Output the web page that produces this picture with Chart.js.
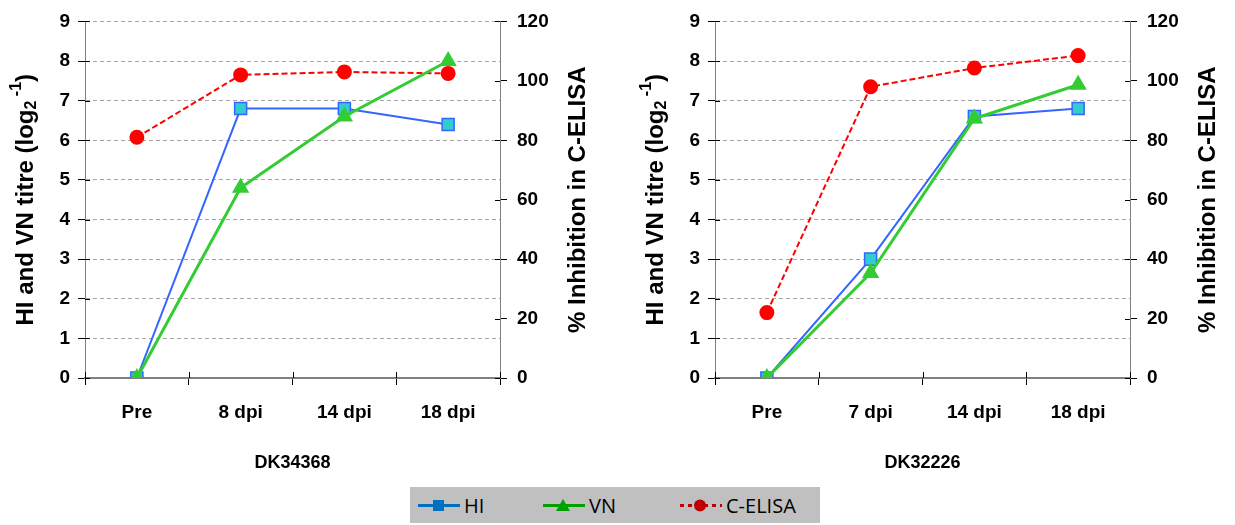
<!DOCTYPE html>
<html>
<head>
<meta charset="utf-8">
<script src="https://cdn.jsdelivr.net/npm/chart.js@4/dist/chart.umd.min.js"></script>
<style>
  body { margin: 0; background: #fff; }
  #wrap { position: relative; width: 1235px; height: 525px; }
  .panel { position: absolute; top: 0; }
  #legend {
    position: absolute; left: 410px; top: 487px; width: 410px; height: 36px;
    background: #c0c0c0; font-family: "Open Sans", sans-serif; font-size: 20px; color: #000;
  }
  #legend .item { position: absolute; top: 0; height: 36px; display: flex; align-items: center; }
  #legend svg { margin-right: 4px; }
</style>
</head>
<body>
<div id="wrap">
  <div class="panel" style="left:0px;width:620px;height:480px"><canvas id="chartA"></canvas></div>
  <div class="panel" style="left:630px;width:605px;height:480px"><canvas id="chartB"></canvas></div>
  <div id="legend"></div>
</div>
<script>
const seriesNames = ['HI', 'VN', 'C-ELISA'];

const titleA = 'DK34368';
const catsA = ['Pre', '8 dpi', '14 dpi', '18 dpi'];
const hiA = [0, 6.8, 6.8, 6.4];
const vnA = [0, 4.8, 6.6, 8.0];
const elisaA = [81, 102, 103, 102.5];

const titleB = 'DK32226';
const catsB = ['Pre', '7 dpi', '14 dpi', '18 dpi'];
const hiB = [0, 3.0, 6.6, 6.8];
const vnB = [0, 2.65, 6.55, 7.4];
const elisaB = [22, 98, 104.3, 108.5];

const leftTicks = {min: 0, max: 9, step: 1};
const rightTicks = {min: 0, max: 120, step: 20};

const boldFont = '"Liberation Sans", Arial, sans-serif';

// axis titles (with sub/superscript) and the inner half of the tick marks
const axisExtras = {
    id: 'axisExtras',
    afterDraw(chart) {
        const ctx = chart.ctx;
        const a = chart.chartArea;
        const mid = (a.top + a.bottom) / 2;

        ctx.save();
        ctx.strokeStyle = '#000';
        ctx.lineWidth = 1;
        ctx.beginPath();
        chart.scales.y.ticks.forEach(t => {
            const py = Math.round(chart.scales.y.getPixelForValue(t.value)) + 0.5;
            ctx.moveTo(a.left, py); ctx.lineTo(a.left + 5, py);
        });
        chart.scales.y1.ticks.forEach(t => {
            const py = Math.round(chart.scales.y1.getPixelForValue(t.value)) + 0.5;
            ctx.moveTo(a.right - 5, py); ctx.lineTo(a.right, py);
        });
        const x = chart.scales.x;
        for (let i = 0; i <= x.ticks.length; i++) {
            const px = Math.round(i === 0 ? a.left : i === x.ticks.length ? a.right
                : (x.getPixelForValue(i - 1) + x.getPixelForValue(i)) / 2) + 0.5;
            ctx.moveTo(px, a.bottom - 6); ctx.lineTo(px, a.bottom);
        }
        ctx.stroke();
        ctx.restore();

        const drawParts = (cx0, parts) => {
            ctx.save();
            ctx.translate(cx0, mid);
            ctx.rotate(-Math.PI / 2);
            ctx.fillStyle = '#000';
            ctx.textBaseline = 'middle';
            let total = 0;
            parts.forEach(p => {
                ctx.font = 'bold ' + p[1] + 'px ' + boldFont;
                total += ctx.measureText(p[0]).width;
            });
            let cx = -total / 2;
            parts.forEach(p => {
                ctx.font = 'bold ' + p[1] + 'px ' + boldFont;
                ctx.fillText(p[0], cx, p[2]);
                cx += ctx.measureText(p[0]).width;
            });
            ctx.restore();
        };
        drawParts(26, [['HI and VN titre (log', 24, 0], ['2', 16, 6], [' -1', 16, -9], [')', 24, 0]]);
        drawParts(a.right + 78, [['% Inhibition in C-ELISA', 24, 0]]);
    }
};

const chartConfig = (cats, hi, vn, elisa, title) => ({
    type: 'line',
    data: {
        labels: cats,
        datasets: [{
            label: seriesNames[0],
            data: hi,
            borderColor: '#3366ff',
            borderWidth: 2,
            pointStyle: 'rect',
            pointRadius: 8.5,
            pointBackgroundColor: '#33cccc',
            pointBorderColor: '#3366ff',
            pointBorderWidth: 1.5,
            yAxisID: 'y',
            order: 1
        }, {
            label: seriesNames[1],
            data: vn,
            borderColor: '#33cc33',
            borderWidth: 3,
            pointStyle: 'triangle',
            pointRadius: 7,
            pointBackgroundColor: '#33cc33',
            pointBorderColor: '#33cc33',
            yAxisID: 'y',
            order: 0
        }, {
            label: seriesNames[2],
            data: elisa,
            borderColor: '#ff0000',
            borderWidth: 2,
            borderDash: [6, 3],
            pointStyle: 'circle',
            pointRadius: 6.5,
            pointBackgroundColor: '#ff0000',
            pointBorderColor: '#ff0000',
            yAxisID: 'y1',
            order: 2
        }]
    },
    options: {
        responsive: true,
        maintainAspectRatio: false,
        animation: false,
        layout: {padding: {top: 21, left: 0, right: 0, bottom: 0}},
        plugins: {
            legend: {display: false},
            tooltip: {enabled: false}
        },
        scales: {
            x: {
                offset: true,
                grid: {offset: true, drawOnChartArea: false, tickLength: 7, color: '#000'},
                border: {color: '#808080', width: 2},
                ticks: {color: '#000', padding: 16, font: {family: boldFont, size: 19, weight: 'bold'}},
                title: {display: true, text: title, color: '#000', padding: {top: 0, bottom: 6},
                    font: {family: boldFont, size: 18, weight: 'bold'}},
                afterFit: s => { s.height = 102; }
            },
            y: {
                position: 'left',
                min: leftTicks.min, max: leftTicks.max,
                grid: {color: '#a6a6a6', tickColor: '#000', tickLength: 7},
                border: {color: '#808080', dash: [4, 3]},
                ticks: {stepSize: leftTicks.step, color: '#000', padding: 8,
                    font: {family: boldFont, size: 19, weight: 'bold'}},
                afterFit: s => { s.width = 85; }
            },
            y1: {
                position: 'right',
                min: rightTicks.min, max: rightTicks.max,
                grid: {drawOnChartArea: false, tickColor: '#000', tickLength: 7},
                border: {color: '#808080'},
                ticks: {stepSize: rightTicks.step, color: '#000', padding: 10,
                    font: {family: boldFont, size: 19, weight: 'bold'}},
                afterFit: s => { s.width = s.chart.width - 500; }
            }
        }
    },
    plugins: [axisExtras]
});

new Chart(document.getElementById('chartA'), chartConfig(catsA, hiA, vnA, elisaA, titleA));
new Chart(document.getElementById('chartB'), chartConfig(catsB, hiB, vnB, elisaB, titleB));

// shared legend built from the dataset styles
const legendItems = [
    {x: 8, color: '#0070c0', marker: '<rect x="15" y="6" width="11" height="11" fill="#0070c0"/>'},
    {x: 133, color: '#00a000', marker: '<polygon points="20,5 27,17 13,17" fill="#00a000"/>'},
    {x: 270, color: '#c00000', dash: '4 4', marker: '<circle cx="20" cy="11.5" r="6" fill="#c00000"/>'}
];
const legend = document.getElementById('legend');
legendItems.forEach((it, i) => {
    const d = document.createElement('div');
    d.className = 'item';
    d.style.left = it.x + 'px';
    d.innerHTML = '<svg width="42" height="23"><line x1="0" y1="11.5" x2="42" y2="11.5" stroke="' + it.color +
        '" stroke-width="3"' + (it.dash ? ' stroke-dasharray="' + it.dash + '"' : '') + '/>' + it.marker +
        '</svg><span>' + seriesNames[i] + '</span>';
    legend.appendChild(d);
});
</script>
</body>
</html>
